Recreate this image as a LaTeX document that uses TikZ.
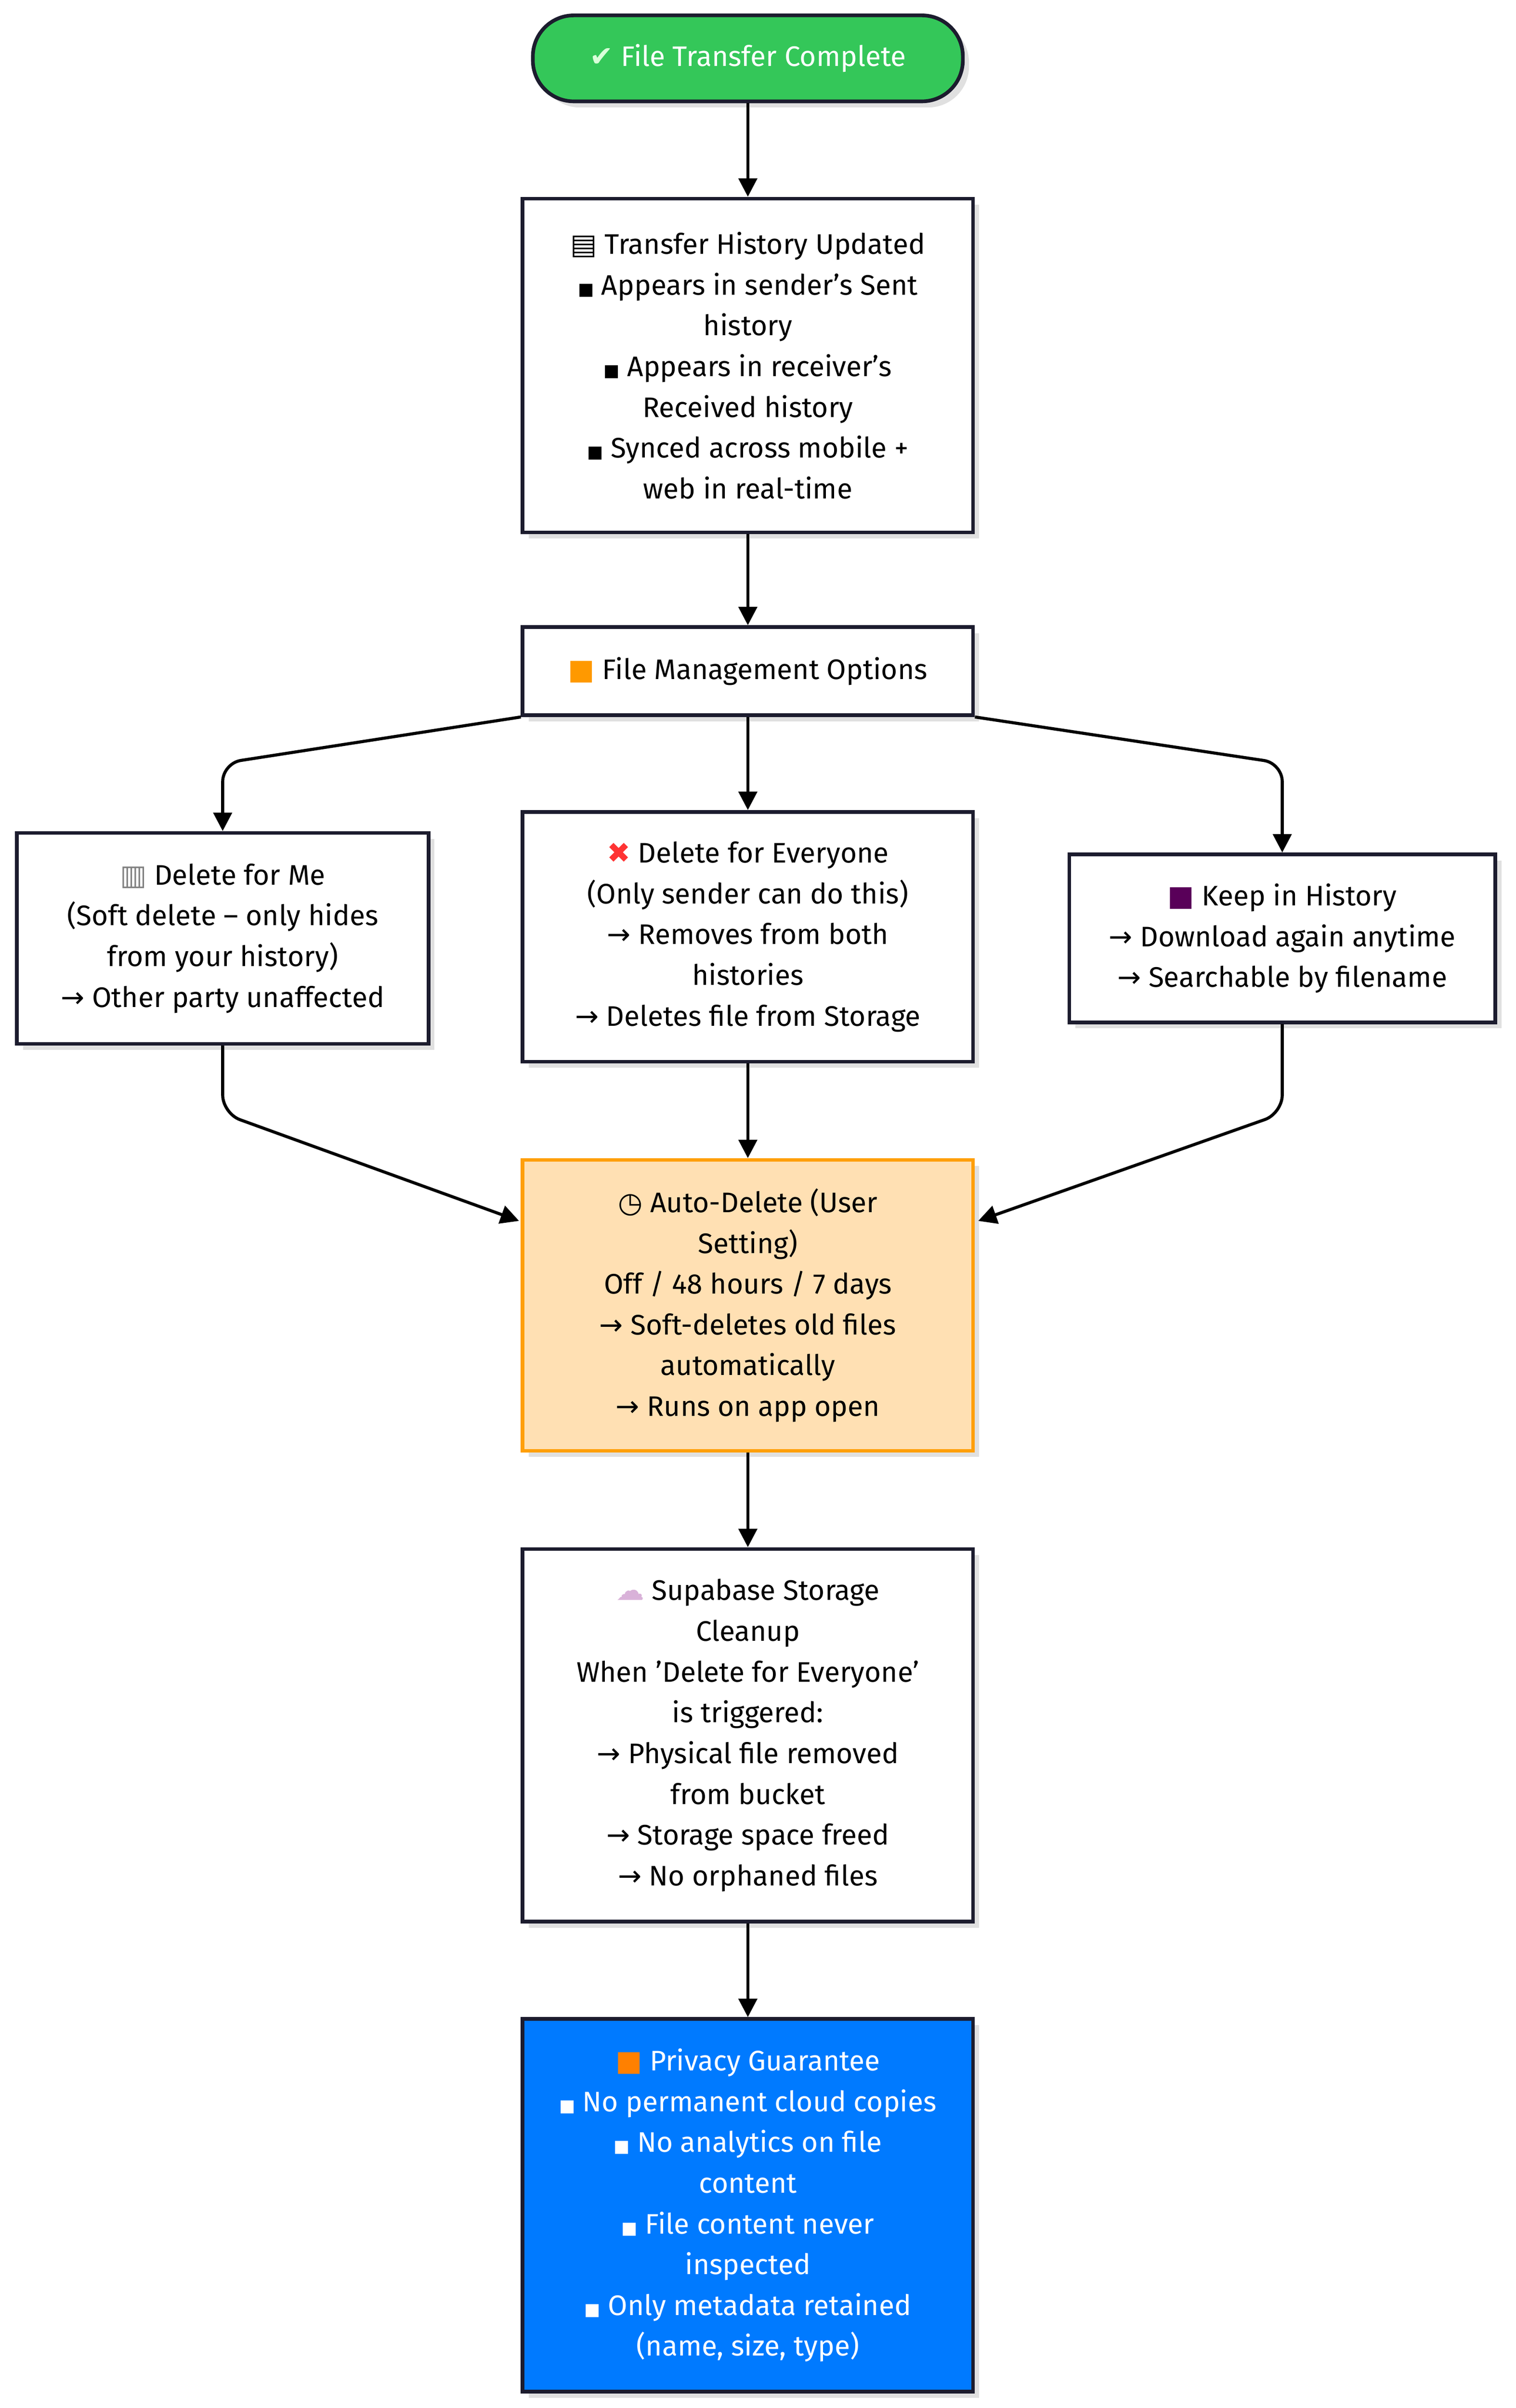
\documentclass[tikz,border=0pt]{standalone}
\usepackage{fontspec}
\setmainfont{Fira Sans}
\newfontfamily\symfont{DejaVu Sans}
\usetikzlibrary{arrows.meta,positioning,shadows}
\newcommand{\sym}[1]{{\symfont #1}}
\newcommand{\bul}{{\symfont\scalebox{0.6}{■}}}
\definecolor{startgreen}{HTML}{34C759}
\definecolor{autofill}{HTML}{FFE0B3}
\definecolor{autoline}{HTML}{FF9F0A}
\definecolor{privfill}{HTML}{007AFF}
\definecolor{edgeline}{HTML}{1C1C2E}
\tikzset{
  box/.style={draw=edgeline, line width=1.8pt, fill=white, align=center,
    font=\fontsize{13.8}{19.9}\selectfont, inner sep=0pt,
    drop shadow={shadow xshift=3pt, shadow yshift=-3pt, opacity=0.12, fill=black}},
  link/.style={-{Triangle[length=9pt,width=9pt]}, line width=1.5pt, rounded corners=9pt}
}
\begin{document}
\begin{tikzpicture}[x=0.75pt,y=-0.75pt]
  \useasboundingbox (0,0) rectangle (987,1568);
  \node[box, fill=startgreen, rounded corners=20pt, minimum width=210pt, minimum height=42pt, text=white] (start) at (487,38)
    {{\color{white!85!green}\sym{✔}} File Transfer Complete};
  \node[box, minimum width=220pt, minimum height=163pt] (hist) at (487,238)
    {\sym{▤} Transfer History Updated\\ \bul{} Appears in sender's Sent\\ history\\ \bul{} Appears in receiver's\\ Received history\\ \bul{} Synced across mobile +\\ web in real-time};
  \node[box, minimum width=220pt, minimum height=43pt] (manage) at (487,437) {{\color{orange!80!yellow}\sym{■}} File Management Options};
  \node[box, minimum width=201pt, minimum height=103pt] (mine) at (145,611)
    {{\color{gray}\sym{▥}} Delete for Me\\ (Soft delete -- only hides\\ from your history)\\ \sym{→} Other party unaffected};
  \node[box, minimum width=220pt, minimum height=122pt] (everyone) at (487,610)
    {{\color{red!80}\sym{✖}} Delete for Everyone\\ (Only sender can do this)\\ \sym{→} Removes from both\\ histories\\ \sym{→} Deletes file from Storage};
  \node[box, minimum width=208pt, minimum height=82pt] (keep) at (835,611)
    {{\color{violet!70!black}\sym{■}} Keep in History\\ \sym{→} Download again anytime\\ \sym{→} Searchable by filename};
  \node[box, draw=autoline, fill=autofill, minimum width=220pt, minimum height=142pt] (auto) at (487,850)
    {\sym{◷} Auto-Delete (User\\ Setting)\\ Off / 48 hours / 7 days\\ \sym{→} Soft-deletes old files\\ automatically\\ \sym{→} Runs on app open};
  \node[box, minimum width=220pt, minimum height=182pt] (cleanup) at (487,1130)
    {{\color{violet!30}\sym{☁}} Supabase Storage\\ Cleanup\\ When 'Delete for Everyone'\\ is triggered:\\ \sym{→} Physical file removed\\ from bucket\\ \sym{→} Storage space freed\\ \sym{→} No orphaned files};
  \node[box, fill=privfill, text=white, minimum width=220pt, minimum height=182pt] (privacy) at (487,1436)
    {{\color{orange}\sym{■}} Privacy Guarantee\\ \bul{} No permanent cloud copies\\ \bul{} No analytics on file\\ content\\ \bul{} File content never\\ inspected\\ \bul{} Only metadata retained\\ (name, size, type)};
  % bends and ends
  \coordinate (lbend) at (145,497);
  \coordinate (rbend) at (835,497);
  \coordinate (ldrop) at (145,725);
  \coordinate (rdrop) at (835,725);
  \coordinate (lend) at (338,795);
  \coordinate (rend) at (637,795);
  % connectors
  \draw[link] (start) -- (hist);
  \draw[link] (hist) -- (manage);
  \draw[link] (manage.south west) -- (lbend) -- (mine.north);
  \draw[link] (manage) -- (everyone);
  \draw[link] (manage.south east) -- (rbend) -- (keep.north);
  \draw[link] (mine.south) -- (ldrop) -- (lend);
  \draw[link] (everyone) -- (auto);
  \draw[link] (keep.south) -- (rdrop) -- (rend);
  \draw[link] (auto) -- (cleanup);
  \draw[link] (cleanup) -- (privacy);
\end{tikzpicture}
\end{document}
